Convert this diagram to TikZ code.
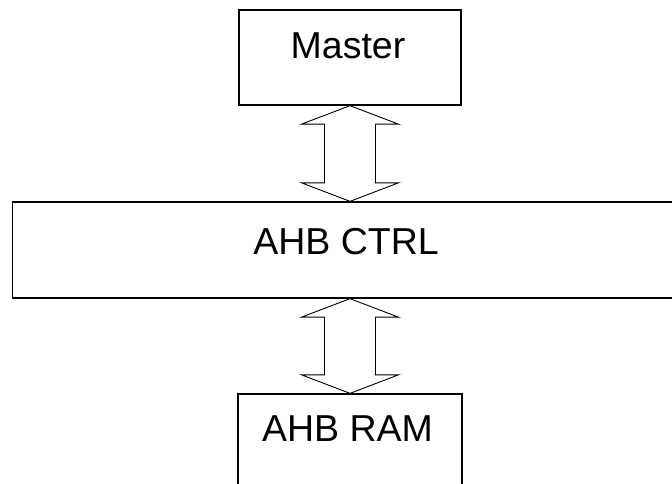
\documentclass[tikz,border=0pt]{standalone}
\usepackage{fontspec}
\setmainfont{Liberation Sans}
\usetikzlibrary{calc}
\tikzset{
  blockbox/.style={draw=black, line width=1.3pt, fill=white, inner sep=0pt},
  blocktext/.style={anchor=base, inner sep=0pt, font=\fontsize{37.5}{40}\selectfont},
  busarrow/.style={draw=black, line width=0.9pt, line join=miter, fill=white}
}
\newcommand{\busdblarrow}[2]{%
  \draw[busarrow] (#1) -- ++(-48.5,18.5) -- ++(23,0) -- ($(#2)+(-25.5,-18.5)$) -- ++(-23,0)
    -- (#2) -- ++(48.5,-18.5) -- ++(-23,0) -- ($(#1)+(25.5,18.5)$) -- ++(23,0) -- cycle;}
\begin{document}
\begin{tikzpicture}[x=1pt, y=-1pt]
  \useasboundingbox (0,0) rectangle (672,484);
  \clip (0,0) rectangle (672,484);
  \fill[white] (0,0) rectangle (672,484);
  % boxes
  \node[blockbox, minimum width=222pt, minimum height=95pt] (master) at (350,57.5) {};
  \node[blockbox, minimum width=690pt, minimum height=96pt] (ctrl) at (357.7,250) {};
  \node[blockbox, minimum width=224pt, minimum height=96pt] (ram) at (350,442) {};
  % texts
  \node[blocktext] (mastertxt) at (348,58.3) {Master};
  \node[blocktext] (ctrltxt) at (346,254) {AHB CTRL};
  \node[blocktext] (ramtxt) at (347.5,441.7) {AHB RAM};
  % double arrows
  \path (master.south) coordinate (a1top) (a1top |- ctrl.north) coordinate (a1bot);
  \path (ram.north) coordinate (a2bot) (a2bot |- ctrl.south) coordinate (a2top);
  \busdblarrow{a1top}{a1bot}
  \busdblarrow{a2top}{a2bot}
\end{tikzpicture}
\end{document}
